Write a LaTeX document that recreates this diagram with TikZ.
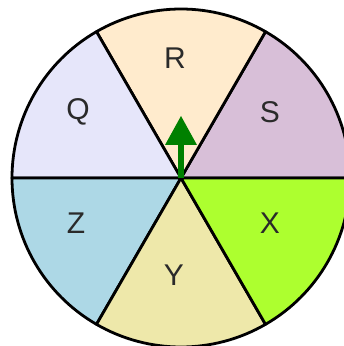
\documentclass[tikz,border=0pt]{standalone}
\usepackage{fontspec}
\setmainfont{Liberation Sans}
\definecolor{cR}{HTML}{FFEBCD}
\definecolor{cS}{HTML}{D8BFD8}
\definecolor{cQ}{HTML}{E6E6FA}
\definecolor{cZ}{HTML}{ADD8E6}
\definecolor{cY}{HTML}{EEE8AA}
\definecolor{cX}{HTML}{ADFF2F}
\definecolor{txt}{HTML}{2A2A2A}
\definecolor{arr}{HTML}{008000}
\tikzset{
  sector/.style={draw=black, line width=2.8pt, line join=round},
  lbl/.style={text=txt, font=\fontsize{30}{30}\selectfont, inner sep=0pt},
}
\begin{document}
\begin{tikzpicture}[x=1pt,y=1pt]
\useasboundingbox (0,0) rectangle (344,346);
\clip (0,0) rectangle (344,346);
\coordinate (c) at (181,168);
\def\rr{169}
\foreach \a/\col in {0/cS,60/cR,120/cQ,180/cZ,240/cY,300/cX}{
  \filldraw[sector, fill=\col] (c) -- ++(\a:\rr) arc[start angle=\a, delta angle=60, radius=\rr] -- cycle;
}
\node[lbl] (R) at (175,288) {R};
\node[lbl] (Q) at (78,234) {Q};
\node[lbl] (S) at (270,234) {S};
\node[lbl] (Z) at (76,123) {Z};
\node[lbl] (X) at (270,123) {X};
\node[lbl] (Y) at (174,71) {Y};
\fill[arr] (178,168) rectangle (184,202);
\fill[arr] (165,201) -- (181,230) -- (197,201) -- cycle;
\end{tikzpicture}
\end{document}
